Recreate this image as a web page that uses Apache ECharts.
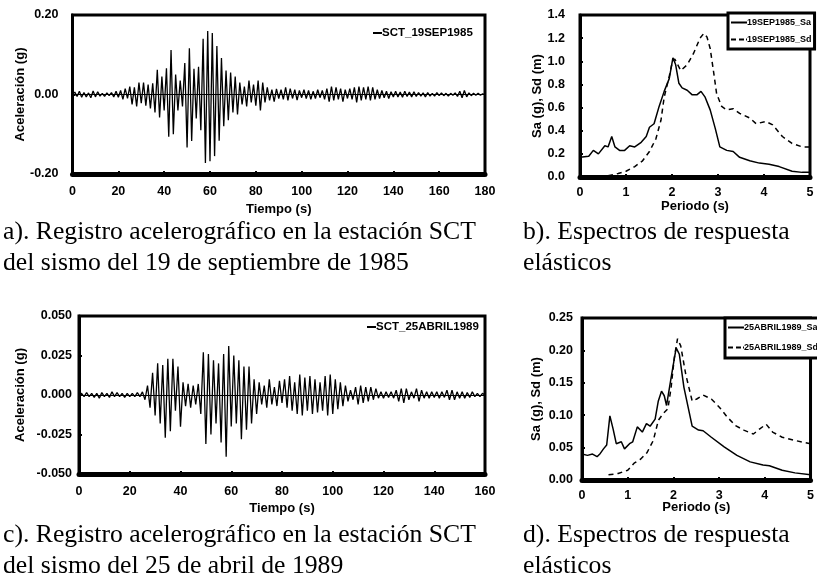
<!DOCTYPE html>
<html>
<head>
<meta charset="utf-8">
<script src="https://cdn.jsdelivr.net/npm/echarts@6/dist/echarts.min.js"></script>
<style>
  html, body { margin: 0; padding: 0; background: #fff; }
  #chart { width: 817px; height: 580px; }
</style>
</head>
<body>
<div id="chart"></div>
<script>
// Acelerograma SCT, sismo del 19 de septiembre de 1985 (g), paso de 1 s
const dt1985 = 1;
const accel1985 = [
  0,
  0.006, -0.005, 0.008, -0.007, 0.005, -0.006, 0.004, -0.008, 0.009, -0.006,
  0.007, -0.004, 0.003, -0.005, 0.004, -0.003, 0.005, -0.006, 0.008, -0.007,
  0.010, -0.012, 0.015, -0.010, 0.020, -0.025, 0.018, -0.030, 0.030, -0.022,
  0.030, -0.028, 0.025, -0.035, 0.028, -0.045, 0.062, -0.058, 0.045, -0.040,
  0.066, -0.106, 0.112, -0.100, 0.050, -0.040, 0.035, -0.030, 0.079, -0.133,
  0.116, -0.117, 0.065, -0.060, 0.070, -0.090, 0.140, -0.172, 0.160, -0.168,
  0.155, -0.155, 0.122, -0.116, 0.092, -0.080, 0.060, -0.065, 0.055, -0.045,
  0.045, -0.050, 0.030, -0.025, 0.020, -0.030, 0.035, -0.020, 0.025, -0.028,
  0.035, -0.040, 0.030, -0.020, 0.018, -0.015, 0.012, -0.018, 0.014, -0.010,
  0.012, -0.012, 0.018, -0.015, 0.015, -0.010, 0.012, -0.014, 0.010, -0.008,
  0.012, -0.010, 0.010, -0.012, 0.008, -0.010, 0.012, -0.008, 0.010, -0.012,
  0.015, -0.018, 0.020, -0.015, 0.018, -0.012, 0.015, -0.018, 0.012, -0.010,
  0.015, -0.012, 0.018, -0.020, 0.020, -0.015, 0.018, -0.012, 0.020, -0.015,
  0.018, -0.012, 0.012, -0.010, 0.010, -0.008, 0.008, -0.010, 0.007, -0.006,
  0.008, -0.006, 0.006, -0.007, 0.008, -0.005, 0.006, -0.006, 0.007, -0.005,
  0.005, -0.004, 0.004, -0.006, 0.005, -0.004, 0.003, -0.004, 0.005, -0.003,
  0.004, -0.003, 0.003, -0.004, 0.003, -0.002, 0.004, -0.005, 0.008, -0.008,
  0.010, -0.006, 0.004, -0.003, 0.003, -0.002, 0.003, -0.002, 0.002, -0.001
];

// Acelerograma SCT, sismo del 25 de abril de 1989 (g), paso de 1 s
const dt1989 = 1;
const accel1989 = [
  0,
  0.001, -0.001, 0.0015, -0.001, 0.001, -0.0015, 0.001, -0.002, 0.0015, -0.001,
  0.001, -0.0015, 0.002, -0.001, 0.0015, -0.001, 0.001, -0.0015, 0.001, -0.001,
  0.001, -0.001, 0.0015, -0.001, 0.002, -0.003, 0.006, -0.008, 0.014, -0.013,
  0.020, -0.018, 0.019, -0.027, 0.023, -0.023, 0.023, -0.010, 0.018, -0.020,
  0.008, -0.007, 0.007, -0.008, 0.006, -0.006, 0.007, -0.012, 0.027, -0.031,
  0.026, -0.025, 0.022, -0.018, 0.020, -0.030, 0.026, -0.039, 0.031, -0.020,
  0.025, -0.018, 0.022, -0.028, 0.018, -0.022, 0.018, -0.018, 0.010, -0.012,
  0.008, -0.006, 0.006, -0.008, 0.010, -0.006, 0.005, -0.007, 0.009, -0.005,
  0.010, -0.008, 0.012, -0.010, 0.008, -0.012, 0.013, -0.013, 0.011, -0.010,
  0.012, -0.012, 0.010, -0.011, 0.008, -0.010, 0.012, -0.013, 0.013, -0.012,
  0.010, -0.009, 0.008, -0.007, 0.006, -0.004, 0.003, -0.003, 0.005, -0.006,
  0.006, -0.005, 0.005, -0.004, 0.005, -0.003, 0.004, -0.002, 0.002, -0.002,
  0.002, -0.0015, 0.002, -0.002, 0.003, -0.004, 0.004, -0.005, 0.004, -0.003,
  0.002, -0.002, 0.004, -0.004, 0.003, -0.002, 0.002, -0.002, 0.002, -0.0015,
  0.002, -0.002, 0.002, -0.0015, 0.003, -0.003, 0.003, -0.003, 0.002, -0.002,
  0.002, -0.002, 0.0015, -0.0015, 0.002, -0.001, 0.001, -0.001, 0.001, 0
];

// Espectros elásticos, 19SEP1985
const periodSa1985 = [0.00, 0.04, 0.19, 0.29, 0.40, 0.54, 0.61, 0.69, 0.76, 0.86, 0.97, 1.08, 1.19, 1.33, 1.44, 1.51, 1.61, 1.72, 1.83, 1.94, 2.02, 2.08, 2.15, 2.22, 2.33, 2.44, 2.54, 2.63, 2.72, 2.83, 2.94, 3.04, 3.19, 3.33, 3.47, 3.69, 3.90, 4.11, 4.33, 4.61, 4.83, 5.00];
const sa1985 =       [0.17, 0.17, 0.18, 0.23, 0.20, 0.27, 0.26, 0.35, 0.26, 0.23, 0.23, 0.27, 0.26, 0.30, 0.35, 0.43, 0.46, 0.61, 0.74, 0.85, 1.03, 0.97, 0.81, 0.77, 0.75, 0.71, 0.71, 0.74, 0.69, 0.58, 0.42, 0.26, 0.23, 0.22, 0.17, 0.14, 0.12, 0.11, 0.09, 0.05, 0.04, 0.04];
const periodSd1985 = [0.61, 0.83, 1.00, 1.19, 1.36, 1.51, 1.65, 1.76, 1.83, 1.94, 2.01, 2.06, 2.19, 2.33, 2.47, 2.61, 2.69, 2.76, 2.83, 2.90, 2.97, 3.08, 3.19, 3.33, 3.47, 3.69, 3.83, 4.04, 4.19, 4.40, 4.61, 4.83, 5.00];
const sd1985 =       [0.01, 0.03, 0.05, 0.09, 0.14, 0.22, 0.33, 0.49, 0.69, 0.87, 1.00, 1.02, 0.92, 0.97, 1.07, 1.20, 1.24, 1.21, 1.11, 0.92, 0.72, 0.61, 0.58, 0.59, 0.55, 0.51, 0.46, 0.48, 0.45, 0.35, 0.29, 0.26, 0.26];

// Espectros elásticos, 25ABRIL1989
const periodSa1989 = [0.00, 0.01, 0.12, 0.23, 0.33, 0.40, 0.47, 0.54, 0.61, 0.68, 0.75, 0.86, 0.93, 1.04, 1.11, 1.21, 1.32, 1.41, 1.49, 1.60, 1.67, 1.74, 1.80, 1.85, 1.95, 2.06, 2.13, 2.23, 2.41, 2.55, 2.65, 2.83, 3.11, 3.39, 3.68, 3.96, 4.10, 4.38, 4.66, 5.00];
const sa1989 =       [0.040, 0.043, 0.038, 0.040, 0.036, 0.041, 0.048, 0.054, 0.099, 0.079, 0.056, 0.059, 0.048, 0.056, 0.059, 0.082, 0.074, 0.087, 0.083, 0.094, 0.122, 0.137, 0.130, 0.115, 0.158, 0.204, 0.194, 0.143, 0.083, 0.077, 0.076, 0.066, 0.051, 0.038, 0.028, 0.023, 0.022, 0.015, 0.011, 0.008];
const periodSd1989 = [0.58, 0.79, 1.00, 1.14, 1.28, 1.42, 1.56, 1.67, 1.77, 1.88, 1.95, 2.02, 2.09, 2.16, 2.27, 2.41, 2.51, 2.65, 2.83, 3.01, 3.18, 3.36, 3.54, 3.75, 3.89, 4.03, 4.17, 4.38, 4.66, 5.00];
const sd1989 =       [0.008, 0.010, 0.015, 0.026, 0.032, 0.042, 0.061, 0.092, 0.102, 0.110, 0.143, 0.189, 0.218, 0.207, 0.163, 0.122, 0.125, 0.131, 0.125, 0.112, 0.097, 0.084, 0.077, 0.071, 0.079, 0.086, 0.074, 0.066, 0.061, 0.056];

// Rangos de los ejes: [min, max, intervalo]
const timeAxis1985 = [0, 180, 20];
const timeAxis1989 = [0, 160, 20];
const accelAxis1985 = [-0.20, 0.20, 0.20];
const accelAxis1989 = [-0.050, 0.050, 0.025];
const periodAxis = [0, 5, 1];
const specAxis1985 = [0, 1.4, 0.2];
const specAxis1989 = [0, 0.25, 0.05];

// Pies de figura
const captions = [
  ['a). Registro acelerográfico en la estación SCT', 'del sismo del 19 de septiembre de 1985'],
  ['b). Espectros de respuesta', 'elásticos'],
  ['c). Registro acelerográfico en la estación SCT', 'del sismo del 25 de abril de 1989'],
  ['d). Espectros de respuesta', 'elásticos']
];

const SANS = "'Liberation Sans', Arial, sans-serif";
const SERIF = "'Liberation Serif', 'Times New Roman', serif";

// Iconos de leyenda: trazo continuo y trazo discontinuo
const ICON_SHORT = 'path://M0,0H9V2H0Z';
const ICON_SOLID = 'path://M0,0H16V2H0Z';
const ICON_DASH = 'path://M0,0H5V2H0Z M8,0H13V2H8Z M15,0H16V2H15Z';

function record(values, dt) {
  return values.map((v, i) => [i * dt, v]);
}
function pairs(xs, ys) {
  return xs.map((x, i) => [x, ys[i]]);
}

function xAxisCfg(gridIndex, range, name, nameGap, labelMargin) {
  return {
    type: 'value', gridIndex, min: range[0], max: range[1], interval: range[2],
    name, nameLocation: 'middle', nameGap, nameMoveOverlap: false,
    nameTextStyle: { fontFamily: SANS, fontWeight: 'bold', fontSize: 13, color: '#000' },
    axisLine: { onZero: false, lineStyle: { color: '#000', width: 5 } },
    axisTick: { show: true, inside: true, length: 3, lineStyle: { color: '#000', width: 2 } },
    axisLabel: { fontFamily: SANS, fontWeight: 'bold', fontSize: 12.5, color: '#000', margin: labelMargin },
    splitLine: { show: false }
  };
}
function yAxisCfg(gridIndex, range, digits, name, nameGap, labelMargin) {
  return {
    type: 'value', gridIndex, min: range[0], max: range[1], interval: range[2],
    name, nameLocation: 'middle', nameGap, nameMoveOverlap: false,
    nameTextStyle: { fontFamily: SANS, fontWeight: 'bold', fontSize: 13, color: '#000' },
    axisLine: { onZero: false, lineStyle: { color: '#000', width: 3 } },
    axisTick: { show: true, inside: true, length: 3, lineStyle: { color: '#000', width: 2 } },
    axisLabel: {
      fontFamily: SANS, fontWeight: 'bold', fontSize: 12.5, color: '#000', margin: labelMargin,
      formatter: v => v.toFixed(digits)
    },
    splitLine: { show: false }
  };
}

const zeroLine = {
  silent: true, symbol: 'none',
  label: { show: false },
  lineStyle: { color: '#000', width: 1, type: 'solid' },
  data: [{ yAxis: 0 }]
};

const captionGraphics = [];
const captionPos = [[3, 232], [523, 232], [3, 535], [523, 535]];
captions.forEach((lines, k) => {
  lines.forEach((t, j) => {
    captionGraphics.push({
      type: 'text',
      x: captionPos[k][0], y: captionPos[k][1] + j * 31,
      style: {
        text: t, fill: '#000',
        font: '25.7px ' + SERIF,
        verticalAlign: 'middle'
      }
    });
  });
});

const legendText = { fontFamily: SANS, fontWeight: 'bold', color: '#000' };
const gridBase = { show: true, borderColor: '#000', borderWidth: 3, backgroundColor: 'transparent' };

const option = {
  animation: false,
  backgroundColor: '#fff',
  grid: [
    Object.assign({ left: 72.5, top: 15, width: 412.5, height: 159 }, gridBase),
    Object.assign({ left: 580, top: 15, width: 230, height: 162 }, gridBase),
    Object.assign({ left: 79, top: 316, width: 406, height: 158 }, gridBase),
    Object.assign({ left: 582, top: 318, width: 236, height: 162 }, gridBase)
  ],
  xAxis: [
    xAxisCfg(0, timeAxis1985, 'Tiempo (s)', 29, 11),
    xAxisCfg(1, periodAxis, 'Periodo (s)', 23, 9),
    xAxisCfg(2, timeAxis1989, 'Tiempo (s)', 28, 11),
    xAxisCfg(3, periodAxis, 'Periodo (s)', 21, 9)
  ],
  yAxis: [
    yAxisCfg(0, accelAxis1985, 2, 'Aceleración (g)', 46, 14),
    yAxisCfg(1, specAxis1985, 1, 'Sa (g), Sd (m)', 36, 15),
    yAxisCfg(2, accelAxis1989, 3, 'Aceleración (g)', 52, 7),
    yAxisCfg(3, specAxis1989, 2, 'Sa (g), Sd (m)', 39, 9)
  ],
  legend: [
    {
      data: [{ name: 'SCT_19SEP1985', icon: ICON_SHORT }], left: 373, top: 27,
      itemWidth: 9, itemHeight: 2, itemGap: 0, padding: 0,
      textStyle: Object.assign({ fontSize: 11.5, padding: [0, 0, 0, -5] }, legendText)
    },
    {
      data: [{ name: 'SCT_25ABRIL1989', icon: ICON_SHORT }], left: 367, top: 321,
      itemWidth: 9, itemHeight: 2, itemGap: 0, padding: 0,
      textStyle: Object.assign({ fontSize: 11.5, padding: [0, 0, 0, -5] }, legendText)
    },
    {
      data: [{ name: '19SEP1985_Sa', icon: ICON_SOLID }, { name: '19SEP1985_Sd', icon: ICON_DASH }],
      left: 728, top: 13, orient: 'vertical',
      itemWidth: 16, itemHeight: 2, itemGap: 8, padding: [5, 3, 5, 3],
      borderColor: '#000', borderWidth: 3, backgroundColor: '#fff',
      textStyle: Object.assign({ fontSize: 9, padding: [0, 0, 0, -5] }, legendText)
    },
    {
      data: [{ name: '25ABRIL1989_Sa', icon: ICON_SOLID }, { name: '25ABRIL1989_Sd', icon: ICON_DASH }],
      left: 725, top: 318, orient: 'vertical',
      itemWidth: 16, itemHeight: 2, itemGap: 11, padding: [5, 3, 6, 3],
      borderColor: '#000', borderWidth: 3, backgroundColor: '#fff',
      textStyle: Object.assign({ fontSize: 9, padding: [0, 0, 0, -5] }, legendText)
    }
  ],
  graphic: captionGraphics,
  series: [
    {
      name: 'SCT_19SEP1985', type: 'line', xAxisIndex: 0, yAxisIndex: 0,
      data: record(accel1985, dt1985), symbol: 'none', smooth: false,
      lineStyle: { color: '#000', width: 1.3 }, itemStyle: { color: '#000' },
      markLine: zeroLine
    },
    {
      name: '19SEP1985_Sa', type: 'line', xAxisIndex: 1, yAxisIndex: 1,
      data: pairs(periodSa1985, sa1985), symbol: 'none',
      lineStyle: { color: '#000', width: 1.5 }, itemStyle: { color: '#000' }
    },
    {
      name: '19SEP1985_Sd', type: 'line', xAxisIndex: 1, yAxisIndex: 1,
      data: pairs(periodSd1985, sd1985), symbol: 'none',
      lineStyle: { color: '#000', width: 1.5, type: [5, 4] }, itemStyle: { color: '#000' }
    },
    {
      name: 'SCT_25ABRIL1989', type: 'line', xAxisIndex: 2, yAxisIndex: 2,
      data: record(accel1989, dt1989), symbol: 'none', smooth: false,
      lineStyle: { color: '#000', width: 1.3 }, itemStyle: { color: '#000' },
      markLine: zeroLine
    },
    {
      name: '25ABRIL1989_Sa', type: 'line', xAxisIndex: 3, yAxisIndex: 3,
      data: pairs(periodSa1989, sa1989), symbol: 'none',
      lineStyle: { color: '#000', width: 1.5 }, itemStyle: { color: '#000' }
    },
    {
      name: '25ABRIL1989_Sd', type: 'line', xAxisIndex: 3, yAxisIndex: 3,
      data: pairs(periodSd1989, sd1989), symbol: 'none',
      lineStyle: { color: '#000', width: 1.5, type: [5, 4] }, itemStyle: { color: '#000' }
    }
  ]
};

const chart = echarts.init(document.getElementById('chart'), null, { renderer: 'canvas' });
chart.setOption(option);
</script>
</body>
</html>
